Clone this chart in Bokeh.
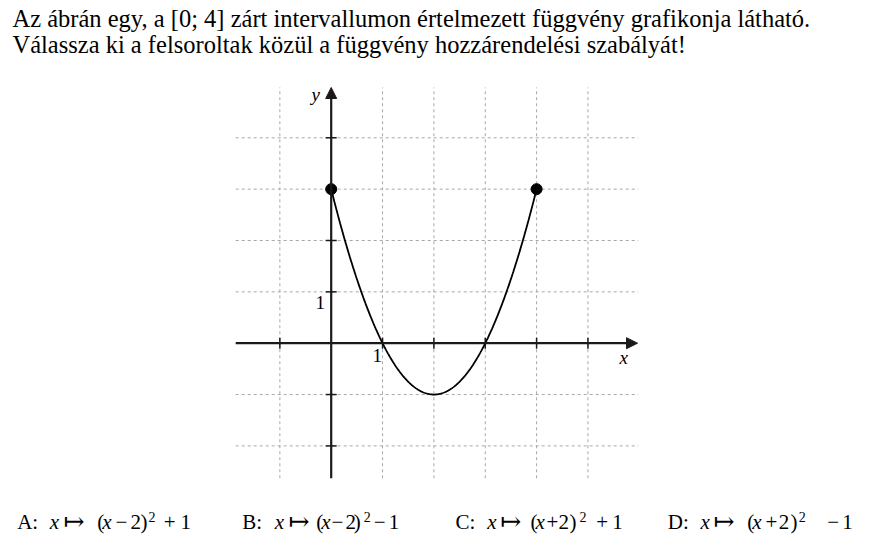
import numpy as np
from bokeh.plotting import figure
from bokeh.models import Arrow, NormalHead, Range1d
from bokeh.core.properties import value
from bokeh.embed import file_html
from bokeh.resources import INLINE

# ---------------- data ----------------
a_coef, h_shift, k_shift = 1.0, 2.0, -1.0      # f(x) = (x - 2)^2 - 1
domain = [0.0, 4.0]
grid_x = [-1, 1, 2, 3, 4, 5]
grid_y = [-2, -1, 1, 2, 3, 4]
tick_x = [-1, 1, 2, 3, 4, 5]
tick_y = [-2, -1, 1, 2, 3, 4]
x_lim = [-1.86, 5.98]
y_lim = [-2.63, 4.98]
title_lines = [
    "Az ábrán egy, a [0; 4] zárt intervallumon értelmezett függvény grafikonja látható.",
    "Válassza ki a felsoroltak közül a függvény hozzárendelési szabályát!",
]
answer_labels = ["A:", "B:", "C:", "D:"]
answer_signs = ["−", "−", "+", "+"]
answer_shift = ["2", "2", "2", "2"]
answer_const_sign = ["+", "−", "+", "−"]
answer_const = ["1", "1", "1", "1"]

# ---------------- layout helpers ----------------
W, H = 883, 541
U = 51.35
X0, Y0 = 330.7, 342.7
SHIFT = 0.38   # empirical baseline correction (em)


def px(xp):
    return (xp - X0) / U


def py(yp):
    return (Y0 - yp) / U


def tb(yp, fs):
    """text baseline (page px) -> data y, corrected"""
    return py(yp - SHIFT * fs)


p = figure(width=W, height=H, output_backend="svg", toolbar_location=None,
           x_range=Range1d(-X0 / U, (W - X0) / U), y_range=Range1d((Y0 - H) / U, Y0 / U),
           x_axis_type=None, y_axis_type=None, min_border=0,
           min_border_left=0, min_border_right=0, min_border_top=0, min_border_bottom=0,
           outline_line_color=None, background_fill_color="white", border_fill_color="white")
p.grid.visible = False

# grid
p.segment(x0=grid_x, y0=[y_lim[0]] * len(grid_x), x1=grid_x, y1=[y_lim[1]] * len(grid_x),
          line_color="#a8a8a8", line_width=1, line_dash="3 3")
p.segment(x0=[x_lim[0]] * len(grid_y), y0=grid_y, x1=[x_lim[1]] * len(grid_y), y1=grid_y,
          line_color="#a8a8a8", line_width=1, line_dash="3 3")

# axes with arrows
axc = "#1a1a1a"
p.add_layout(Arrow(end=NormalHead(size=11, fill_color=axc, line_color=axc),
                   x_start=x_lim[0], y_start=0, x_end=px(637), y_end=0,
                   line_color=axc, line_width=2.2))
p.add_layout(Arrow(end=NormalHead(size=11, fill_color=axc, line_color=axc),
                   x_start=0, y_start=y_lim[0], x_end=0, y_end=py(87),
                   line_color=axc, line_width=2.2))

# ticks
tl = 5.5 / U
p.segment(x0=tick_x, y0=[-tl] * len(tick_x), x1=tick_x, y1=[tl] * len(tick_x),
          line_color=axc, line_width=1.5)
p.segment(x0=[-tl] * len(tick_y), y0=tick_y, x1=[tl] * len(tick_y), y1=tick_y,
          line_color=axc, line_width=1.5)

# curve
xs = np.linspace(domain[0], domain[1], 301)
ys = a_coef * (xs - h_shift) ** 2 + k_shift
p.line(xs, ys, line_color="black", line_width=1.8)
ex = np.array(domain)
ey = a_coef * (ex - h_shift) ** 2 + k_shift
p.scatter(ex, ey, size=11, color="black")

# axis labels
font = value("Liberation Serif")
fs_ax = 19
p.text(x=[px(311)], y=[tb(101, fs_ax)], text=["y"], text_font=font, text_font_style="italic",
       text_font_size=f"{fs_ax}px", text_baseline="alphabetic")
p.text(x=[px(619)], y=[tb(364, fs_ax)], text=["x"], text_font=font, text_font_style="italic",
       text_font_size=f"{fs_ax}px", text_baseline="alphabetic")
p.text(x=[px(315), px(372)], y=[tb(309, fs_ax), tb(362, fs_ax)], text=["1", "1"], text_font=font,
       text_font_size=f"{fs_ax}px", text_baseline="alphabetic")

# title
fs_t = 24.5
p.text(x=[px(12), px(12)], y=[tb(27, fs_t), tb(53, fs_t)], text=title_lines, text_font=font,
       text_font_size=f"{fs_t}px", text_baseline="alphabetic", text_color="black")

# answers: glyph positions (left edges, page px) for each answer
pos_label = [16.7, 241.7, 455.0, 667.3]
pos_x1 = [49.3, 274.3, 486.7, 700.0]
pos_map = [63.3, 288.3, 500.0, 713.3]
pos_par = [96.7, 315.7, 530.0, 746.7]
pos_x2 = [101.7, 320.7, 535.0, 751.7]
pos_op = [115.0, 331.0, 546.0, 765.0]
pos_two = [130.0, 345.0, 558.0, 778.3]
pos_close = [140.0, 353.3, 569.0, 790.0]
pos_sup = [148.0, 363.3, 579.0, 798.3]
pos_csign = [163.3, 373.3, 595.7, 826.7]
pos_c = [180.0, 388.3, 611.7, 841.7]

base = 529
fs_a = 21
roman_x = pos_label + pos_par + pos_op + pos_two + pos_close + pos_csign + pos_c
roman_t = answer_labels + ["("] * 4 + answer_signs + answer_shift + [")"] * 4 + answer_const_sign + answer_const
p.text(x=[px(v) for v in roman_x], y=[tb(base, fs_a)] * len(roman_x), text=roman_t, text_font=font,
       text_font_size=f"{fs_a}px", text_baseline="alphabetic")
ital_x = pos_x1 + pos_x2
p.text(x=[px(v) for v in ital_x], y=[tb(base, fs_a)] * len(ital_x), text=["x"] * len(ital_x), text_font=font,
       text_font_style="italic", text_font_size=f"{fs_a}px", text_baseline="alphabetic")
fs_m = 25
p.text(x=[px(v) for v in pos_map], y=[tb(base + 1, fs_m)] * 4, text=["↦"] * 4, text_font=value("DejaVu Serif"),
       text_font_size=f"{fs_m}px", text_baseline="alphabetic")
fs_s = 14
p.text(x=[px(v) for v in pos_sup], y=[tb(522, fs_s)] * 4, text=["2"] * 4, text_font=font,
       text_font_size=f"{fs_s}px", text_baseline="alphabetic")

open("out.html", "w").write(file_html(p, INLINE))
